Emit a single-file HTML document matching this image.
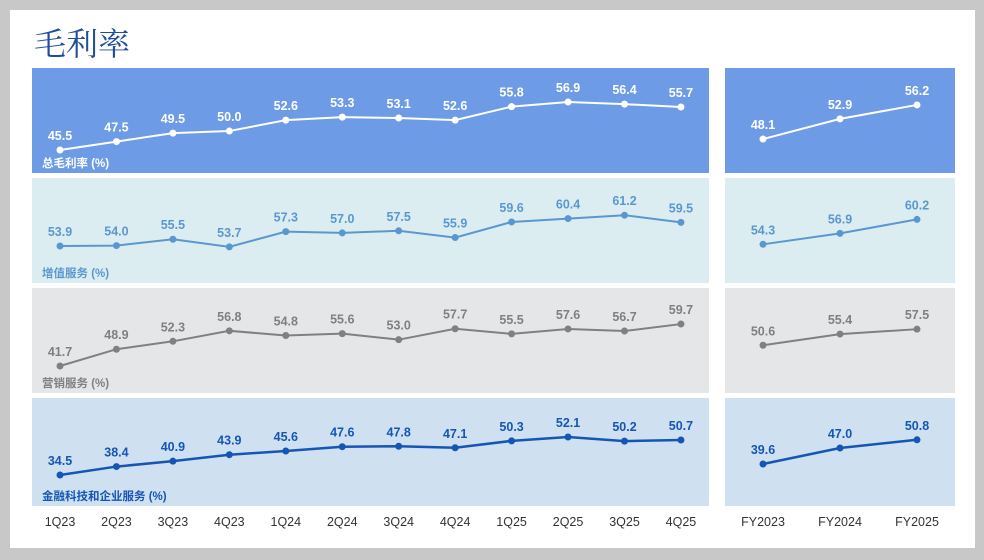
<!DOCTYPE html>
<html><head><meta charset="utf-8"><style>
body{margin:0;background:#c8c8c8;}
#wrap{position:relative;width:984px;height:560px;background:#c8c8c8;overflow:hidden;font-family:"Liberation Sans","Noto Sans CJK SC",sans-serif;}
#card{position:absolute;left:10px;top:10px;width:965px;height:538px;background:#fff;}
#title{position:absolute;left:34px;top:19px;font-family:"Liberation Serif","Noto Serif CJK SC",serif;font-size:32px;color:#1f4e9a;}
</style></head><body>
<div id="wrap">
<div id="card"></div>
<div id="title">毛利率</div>
<svg id="svg" width="984" height="560" style="position:absolute;left:0;top:0"></svg>
</div>
<script>
const quarters=["1Q23","2Q23","3Q23","4Q23","1Q24","2Q24","3Q24","4Q24","1Q25","2Q25","3Q25","4Q25"];
const years=["FY2023","FY2024","FY2025"];
const seriesNames=["总毛利率 (%)","增值服务 (%)","营销服务 (%)","金融科技和企业服务 (%)"];
const totalQ=[45.5,47.5,49.5,50.0,52.6,53.3,53.1,52.6,55.8,56.9,56.4,55.7];
const totalY=[48.1,52.9,56.2];
const vasQ=[53.9,54.0,55.5,53.7,57.3,57.0,57.5,55.9,59.6,60.4,61.2,59.5];
const vasY=[54.3,56.9,60.2];
const mktQ=[41.7,48.9,52.3,56.8,54.8,55.6,53.0,57.7,55.5,57.6,56.7,59.7];
const mktY=[50.6,55.4,57.5];
const finQ=[34.5,38.4,40.9,43.9,45.6,47.6,47.8,47.1,50.3,52.1,50.2,50.7];
const finY=[39.6,47.0,50.8];
const rows=[
 {q:totalQ,y:totalY,top:68,h:105,bg:"#6e9be6",c:"#ffffff",lc:"#ffffff",base:45.5,by:150,k:4.21,w:2},
 {q:vasQ,y:vasY,top:178,h:105,bg:"#dcedf1",c:"#5b97cf",lc:"#5b97cf",base:53.9,by:246,k:4.22,w:2},
 {q:mktQ,y:mktY,top:288,h:105,bg:"#e5e6e8",c:"#808080",lc:"#808080",base:41.7,by:366,k:2.33,w:2},
 {q:finQ,y:finY,top:398,h:108,bg:"#cfe0f1",c:"#1556b5",lc:"#1556b5",base:34.5,by:475,k:2.16,w:2.5}
];
const NS="http://www.w3.org/2000/svg";
const svg=document.getElementById("svg");
function el(t,a){const e=document.createElementNS(NS,t);for(const k in a)e.setAttribute(k,a[k]);svg.appendChild(e);return e;}
const xq=i=>60+i*56.45, xy=i=>763+i*77;
rows.forEach((r,ri)=>{
 const yv=v=>r.by-(v-r.base)*r.k;
 let p=el("rect",{x:32,y:r.top,width:677,height:r.h,fill:r.bg});
 
 
 p=el("rect",{x:725,y:r.top,width:230,height:r.h,fill:r.bg});
 
 
 [[r.q,xq],[r.y,xy]].forEach(([arr,xf])=>{
  const pl=el("polyline",{points:arr.map((v,i)=>xf(i)+","+yv(v)).join(" "),fill:"none",stroke:r.c,"stroke-width":r.w});
  
  
  arr.forEach((v,i)=>{
   const c=el("circle",{cx:xf(i),cy:yv(v),r:3.5,fill:r.c});
   
   
   const t=el("text",{x:xf(i),y:yv(v)-10,"text-anchor":"middle","font-size":"12.5","font-weight":"bold",fill:r.lc});
   t.textContent=v.toFixed(1);
   
   
  });
 });
 const s=el("text",{x:42,y:r.top+r.h-6,"font-size":"11.5","font-weight":"bold",fill:r.lc});
 s.textContent=seriesNames[ri];
 
 
});
quarters.forEach((q,i)=>{const t=el("text",{x:xq(i),y:526,"text-anchor":"middle","font-size":"12.5",fill:"#333"});t.textContent=q;
 
 });
years.forEach((q,i)=>{const t=el("text",{x:xy(i),y:526,"text-anchor":"middle","font-size":"12.5",fill:"#333"});t.textContent=q;
 
 });
</script>
</body></html>
